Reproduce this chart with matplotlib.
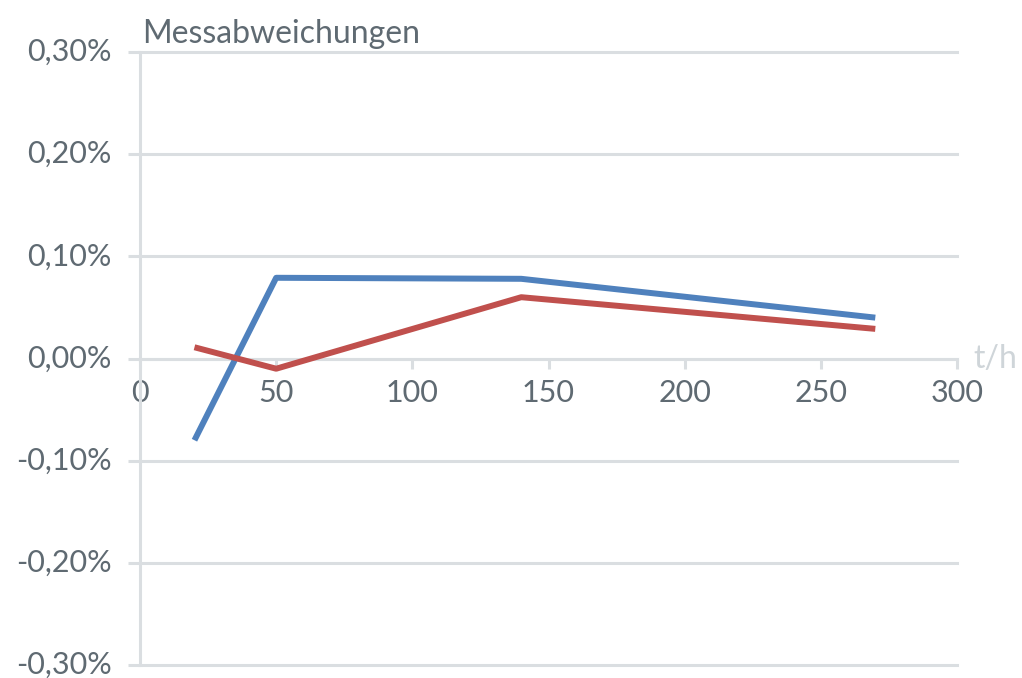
import matplotlib
matplotlib.use('Agg')
import matplotlib.pyplot as plt
from matplotlib.ticker import FuncFormatter

plt.rcParams['font.family'] = ['Lato', 'DejaVu Sans']

# data (t/h vs. deviation in %)
hours = [20, 50, 140, 270]
dev_blue = [-0.08, 0.079, 0.078, 0.040]
dev_red = [0.011, -0.010, 0.060, 0.029]

x_ticks = [0, 50, 100, 150, 200, 250, 300]
y_ticks = [-0.3, -0.2, -0.1, 0.0, 0.1, 0.2, 0.3]

grid_col = '#dadee1'
text_col = '#5f6a72'
fs = 22

fig = plt.figure(figsize=(10.22, 6.78), dpi=100)
ax = fig.add_axes([140/1022, 1 - 665/678, 817/1022, 613/678])

ax.plot(hours, dev_blue, color='#4f81bd', linewidth=4.3, solid_capstyle='butt', zorder=3)
ax.plot(hours, dev_red, color='#c0504d', linewidth=4.3, solid_capstyle='butt', zorder=3)

ax.set_xlim(0, 300)
ax.set_ylim(-0.3, 0.3)
ax.set_xticks(x_ticks)
ax.set_yticks(y_ticks)
ax.yaxis.set_major_formatter(FuncFormatter(
    lambda v, p: ('%.2f%%' % v).replace('.', ',').replace('-0,00', '0,00')))

for s in ['top', 'right']:
    ax.spines[s].set_visible(False)
ax.spines['left'].set_position(('data', 0))
ax.spines['bottom'].set_position(('data', 0))
for s in ['left', 'bottom']:
    ax.spines[s].set_color(grid_col)
    ax.spines[s].set_linewidth(2.2)

ax.grid(axis='y', color=grid_col, linewidth=2.2)
ax.set_axisbelow(True)
for t in ax.yaxis.get_major_ticks():
    t.gridline.set_clip_on(False)

ax.tick_params(axis='y', length=8.6, width=2.2, color=grid_col, pad=12,
               labelsize=fs, labelcolor=text_col)
ax.tick_params(axis='x', length=7, width=2.2, color=grid_col, pad=8,
               labelsize=fs, labelcolor=text_col)
for lab in ax.get_yticklabels():
    lab.set_verticalalignment('center')
for lab in ax.get_xticklabels():
    lab.set_bbox(dict(facecolor='white', edgecolor='none', pad=2))

ax.text(0.003, 1.005, 'Messabweichungen', transform=ax.transAxes,
        fontsize=fs + 1, color=text_col, ha='left', va='bottom')
ax.text(1.02, 0.5, 't/h', transform=ax.transAxes, fontsize=fs + 1,
        color='#cfd5d9', ha='left', va='center')

fig.savefig('out.png', dpi=100)
